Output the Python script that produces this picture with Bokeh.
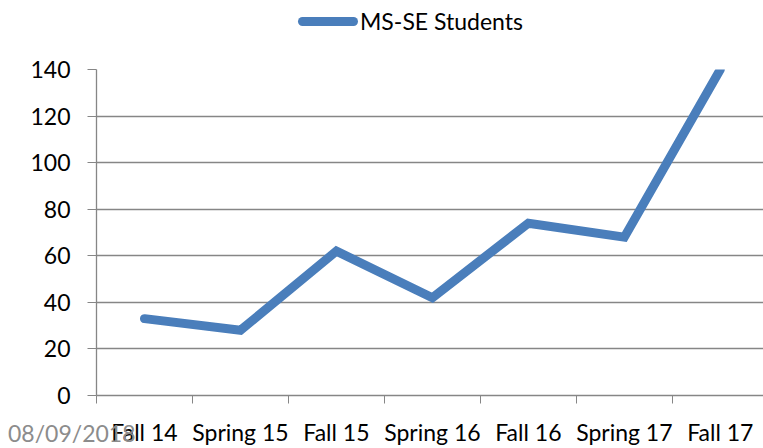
from bokeh.plotting import figure
from bokeh.models import (Range1d, FixedTicker, Div)
from bokeh.layouts import column
from bokeh.embed import file_html
from bokeh.resources import INLINE

# ---- data ----
categories = ["Fall 14", "Spring 15", "Fall 15", "Spring 16", "Fall 16", "Spring 17", "Fall 17"]
students = [33, 28, 62, 42, 74, 68, 140]
y_ticks = [0, 20, 40, 60, 80, 100, 120, 140]
series_name = "MS-SE Students"
date_text = "08/09/2018"

FONT = "Lato"
FS = "23px"
BLUE = "#4A7EBB"
GRID = "#868686"

xs = [i + 0.5 for i in range(len(categories))]
boundaries = list(range(len(categories) + 1))

p = figure(width=763, height=448, output_backend="svg", toolbar_location=None,
           x_range=Range1d(0, 6.95), y_range=Range1d(0, 140),
           min_border_left=96, min_border_right=0, min_border_top=69, min_border_bottom=50)
p.outline_line_color = None
p.background_fill_color = "white"
p.border_fill_color = "white"

line = p.line(xs, students, line_color=BLUE, line_width=9, line_cap="round", line_join="miter")

# x axis
xa = p.xaxis[0]
xa.ticker = FixedTicker(ticks=xs, minor_ticks=boundaries)
xa.major_label_overrides = {x: c for x, c in zip(xs, categories)}
xa.major_tick_out = 0
xa.major_tick_in = 0
xa.minor_tick_out = 8
xa.minor_tick_in = 0
xa.minor_tick_line_color = GRID
xa.axis_line_color = GRID
xa.axis_line_width = 1.3
xa.major_label_standoff = 14
xa.major_label_text_font = FONT
xa.major_label_text_font_size = FS
xa.major_label_text_color = "black"

# y axis
ya = p.yaxis[0]
ya.ticker = FixedTicker(ticks=y_ticks)
ya.minor_tick_line_color = None
ya.major_tick_out = 9
ya.major_tick_in = 0
ya.major_tick_line_color = GRID
ya.axis_line_color = GRID
ya.axis_line_width = 1.3
ya.major_label_standoff = 17
ya.major_label_text_font = FONT
ya.major_label_text_font_size = FS
ya.major_label_text_color = "black"

p.xgrid.grid_line_color = None
p.ygrid.ticker = FixedTicker(ticks=y_ticks)
p.ygrid.grid_line_color = GRID
p.ygrid.grid_line_width = 1.3

# legend (overlaid above the plot area)
legend_html = (
    '<span style="display:inline-block;width:60px;height:9px;border-radius:5px;'
    'background:%s;vertical-align:middle"></span>'
    '<span style="margin-left:2px;vertical-align:middle">%s</span>' % (BLUE, series_name)
)
legend_div = Div(text=legend_html, width=300, height=28, margin=(-444, 0, 0, 298),
                 styles={"font-family": FONT, "font-size": FS, "color": "black",
                         "line-height": "28px", "white-space": "nowrap"})

# date stamp at bottom-left
date_div = Div(text=date_text, width=150, height=28, margin=(387, 0, 0, 8),
               styles={"font-family": FONT, "font-size": FS, "color": "#8C8C8C",
                       "line-height": "28px", "white-space": "nowrap"})

layout = column(p, legend_div, date_div, spacing=0)

open("out.html", "w").write(file_html(layout, INLINE))
